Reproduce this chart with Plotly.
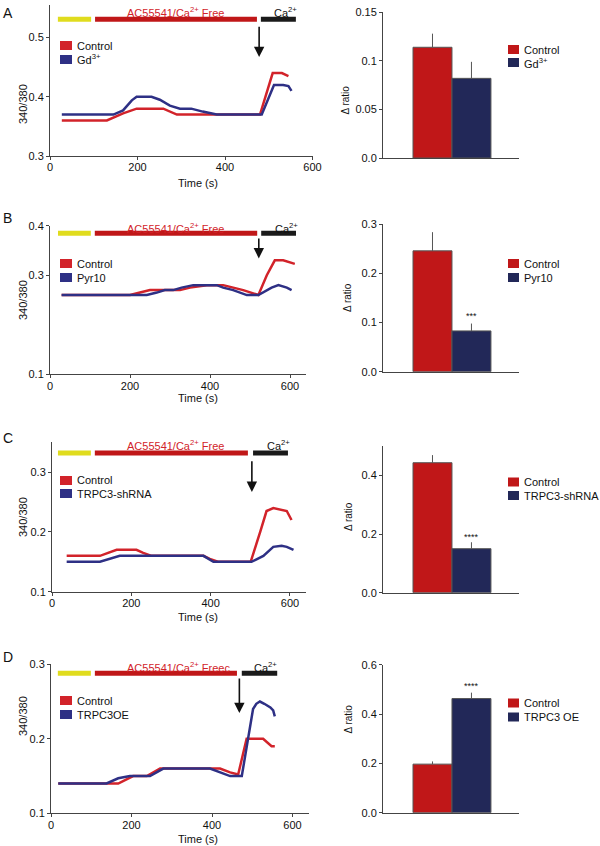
import plotly.graph_objects as go

W, H = 600, 846
FONT = "Liberation Sans, Arial, Helvetica, sans-serif"
RED_LINE = "#d2232a"
BLUE_LINE = "#2e3085"
RED_BAR = "#c01718"
BLUE_BAR = "#222858"
YELLOW = "#e0dc1e"
AXIS = "#444444"

# ---- traces (time in s, 340/380 ratio) ----
a_t_ctrl = [27, 130, 167, 198, 259, 290, 480, 509, 530, 545]
a_ctrl = [0.36, 0.36, 0.372, 0.38, 0.38, 0.37, 0.37, 0.44, 0.44, 0.435]
a_t_trt = [27, 145, 167, 187, 198, 232, 251, 274, 297, 323, 349, 366, 381, 484, 512, 533, 545, 552]
a_trt = [0.37, 0.37, 0.377, 0.394, 0.40, 0.40, 0.395, 0.385, 0.38, 0.38, 0.375, 0.372, 0.37, 0.37, 0.42, 0.42, 0.418, 0.41]

b_t_ctrl = [29, 200, 225, 250, 325, 350, 392, 433, 458, 483, 521, 542, 562, 583, 612]
b_ctrl = [0.26, 0.26, 0.265, 0.27, 0.27, 0.275, 0.28, 0.28, 0.275, 0.27, 0.26, 0.30, 0.33, 0.33, 0.323]
b_t_trt = [29, 242, 267, 287, 308, 329, 358, 417, 433, 458, 492, 521, 554, 571, 592, 604]
b_trt = [0.26, 0.26, 0.265, 0.27, 0.27, 0.275, 0.28, 0.28, 0.275, 0.27, 0.26, 0.26, 0.275, 0.28, 0.275, 0.27]

c_t_ctrl = [37, 121, 163, 213, 230, 251, 382, 398, 420, 501, 525, 541, 558, 583, 592, 604]
c_ctrl = [0.16, 0.16, 0.17, 0.17, 0.165, 0.16, 0.16, 0.155, 0.15, 0.15, 0.20, 0.235, 0.24, 0.237, 0.235, 0.22]
c_t_trt = [37, 121, 171, 382, 407, 503, 533, 558, 579, 592, 609]
c_trt = [0.15, 0.15, 0.16, 0.16, 0.15, 0.15, 0.16, 0.175, 0.177, 0.175, 0.17]

d_t_ctrl = [18, 167, 204, 238, 271, 420, 445, 465, 486, 527, 548, 556]
d_ctrl = [0.14, 0.14, 0.15, 0.15, 0.16, 0.16, 0.155, 0.152, 0.20, 0.20, 0.19, 0.19]
d_t_trt = [18, 138, 167, 196, 246, 279, 395, 420, 445, 474, 490, 502, 510, 519, 530, 545, 552, 556]
d_trt = [0.14, 0.14, 0.147, 0.15, 0.15, 0.16, 0.16, 0.155, 0.15, 0.15, 0.20, 0.24, 0.247, 0.25, 0.247, 0.242, 0.238, 0.23]

# treatment periods (s): baseline, AC55541/Ca-free, Ca2+
a_periods = [(18, 94), (103, 473), (482, 562)]
b_periods = [(20, 102), (112, 518), (528, 615)]
c_periods = [(15, 98), (108, 494), (507, 595)]
d_periods = [(17, 99), (109, 462), (474, 562)]

# ---- summary bars (delta ratio, mean and SEM) ----
bar_groups = ["Control", "Treated"]
a_mean = [0.114, 0.082]
a_sem = [0.014, 0.017]
b_mean = [0.246, 0.083]
b_sem = [0.038, 0.015]
c_mean = [0.443, 0.150]
c_sem = [0.026, 0.022]
d_mean = [0.197, 0.463]
d_sem = [0.011, 0.024]

treat_names = ["Gd<sup>3+</sup>", "Pyr10", "TRPC3-shRNA", "TRPC3OE"]
bar_names = ["Gd<sup>3+</sup>", "Pyr10", "TRPC3-shRNA", "TRPC3 OE"]


def fx(p):
    return p / W


def fy(p):
    return 1 - p / H


panels = [
    dict(letter="A", ly=13, tc=a_t_ctrl, c=a_ctrl, tt=a_t_trt, t=a_trt, per=a_periods,
         xd=(50, 312.5), xr=(0, 600), yd=(156, 5), yr=(0.3, 0.555), yt=[0.3, 0.4, 0.5],
         bar_y=0.531, txt_y=0.543, free_x=287, free="AC55541/Ca<sup>2+</sup> Free", ca_x=539,
         arrow=(478, 0.521, 0.467), time_y=183, ylab_y=82, leg_y=(45.5, 59.5),
         mean=a_mean, sem=a_sem, byd=(158, 12.3), byr=(0, 0.15), byt=[0, 0.05, 0.1, 0.15],
         bytt=["0.0", "0.05", "0.1", "0.15"], dx=345, dy=84, bleg=(49.5, 62.5), star=None),
    dict(letter="B", ly=218, tc=b_t_ctrl, c=b_ctrl, tt=b_t_trt, t=b_trt, per=b_periods,
         xd=(50, 306), xr=(0, 640), yd=(374.3, 225.7), yr=(0.1, 0.4), yt=[0.1, 0.3, 0.4],
         bar_y=0.385, txt_y=0.3955, free_x=314, free="AC55541/Ca<sup>2+</sup> Free", ca_x=590,
         arrow=(522, 0.377, 0.334), time_y=398, ylab_y=300, leg_y=(263.5, 277.5),
         mean=b_mean, sem=b_sem, byd=(371.7, 224.3), byr=(0, 0.3), byt=[0, 0.1, 0.2, 0.3],
         bytt=["0.0", "0.1", "0.2", "0.3"], dx=348, dy=298, bleg=(263.5, 277.5), star=("***", 0.113)),
    dict(letter="C", ly=438, tc=c_t_ctrl, c=c_ctrl, tt=c_t_trt, t=c_trt, per=c_periods,
         xd=(52, 305.8), xr=(0, 640), yd=(591.7, 442.3), yr=(0.1, 0.35), yt=[0.1, 0.2, 0.3],
         bar_y=0.332, txt_y=0.3457, free_x=311, free="AC55541/Ca<sup>2+</sup> Free", ca_x=570,
         arrow=(504, 0.321, 0.267), time_y=617, ylab_y=517, leg_y=(480.5, 493.5),
         mean=c_mean, sem=c_sem, byd=(592.7, 446), byr=(0, 0.5), byt=[0, 0.2, 0.4],
         bytt=["0.0", "0.2", "0.4"], dx=348, dy=517, bleg=(482, 495.5), star=("****", 0.19)),
    dict(letter="D", ly=657, tc=d_t_ctrl, c=d_ctrl, tt=d_t_trt, t=d_trt, per=d_periods,
         xd=(51, 308.6), xr=(0, 640), yd=(813.3, 664.3), yr=(0.1, 0.3), yt=[0.1, 0.2, 0.3],
         bar_y=0.288, txt_y=0.2968, free_x=317, free="AC55541/Ca<sup>2+</sup> Freec", ca_x=532,
         arrow=(468, 0.283, 0.2345), time_y=839, ylab_y=738, leg_y=(700.5, 714.5),
         mean=d_mean, sem=d_sem, byd=(812.7, 664.8), byr=(0, 0.6), byt=[0, 0.2, 0.4, 0.6],
         bytt=["0.0", "0.2", "0.4", "0.6"], dx=348, dy=736, bleg=(703, 717), star=("****", 0.515)),
]

fig = go.Figure()
shapes = []
annos = []
layout = {}
tickfont = dict(family=FONT, size=11, color="#111")
txtfont = dict(family=FONT, size=11, color="#111")

for i, p in enumerate(panels):
    n = i + 1          # line plot axes
    m = i + 5          # bar plot axes
    xs, ys = ("x" if n == 1 else f"x{n}"), ("y" if n == 1 else f"y{n}")
    xb, yb = f"x{m}", f"y{m}"

    fig.add_trace(go.Scatter(x=p["tc"], y=p["c"], mode="lines", line=dict(color=RED_LINE, width=2.5),
                             xaxis=xs, yaxis=ys, showlegend=False))
    fig.add_trace(go.Scatter(x=p["tt"], y=p["t"], mode="lines", line=dict(color=BLUE_LINE, width=2.5),
                             xaxis=xs, yaxis=ys, showlegend=False))

    common = dict(showline=True, linecolor=AXIS, linewidth=1, ticks="outside", ticklen=3,
                  tickcolor=AXIS, showgrid=False, zeroline=False, tickfont=tickfont, automargin=False)
    layout["xaxis" if n == 1 else f"xaxis{n}"] = dict(
        domain=[fx(p["xd"][0]), fx(p["xd"][1])], range=list(p["xr"]), anchor=ys,
        tickvals=[0, 200, 400, 600], ticklabelstandoff=-2, **common)
    layout["yaxis" if n == 1 else f"yaxis{n}"] = dict(
        domain=[fy(p["yd"][0]), fy(p["yd"][1])], range=list(p["yr"]), anchor=xs,
        tickvals=p["yt"], ticktext=[f"{v:.1f}" for v in p["yt"]], **common)

    # treatment bars on top
    for (t0, t1), col in zip(p["per"], [YELLOW, RED_BAR, "#1a1a1a"]):
        shapes.append(dict(type="line", xref=xs, yref=ys, x0=t0, x1=t1, y0=p["bar_y"], y1=p["bar_y"],
                           line=dict(color=col, width=5)))
    annos.append(dict(xref=xs, yref=ys, x=p["free_x"], y=p["txt_y"], text=p["free"], showarrow=False,
                      font=dict(family=FONT, size=11, color="#d2232a"), yanchor="middle"))
    annos.append(dict(xref=xs, yref=ys, x=p["ca_x"], y=p["txt_y"], text="Ca<sup>2+</sup>", showarrow=False,
                      font=txtfont, yanchor="middle"))
    ax_, y_tail, y_head = p["arrow"]
    annos.append(dict(xref=xs, yref=ys, x=ax_, y=y_head, ax=ax_, ay=y_tail, axref=xs, ayref=ys,
                      text="", showarrow=True, arrowhead=2, arrowsize=1.3, arrowwidth=1.6,
                      arrowcolor="#111"))

    # axis titles and panel letter
    annos.append(dict(xref="paper", yref="paper", x=fx(176), y=fy(p["time_y"]), text="Time (s)",
                      showarrow=False, font=txtfont, yanchor="middle"))
    annos.append(dict(xref="paper", yref="paper", x=fx(15), y=fy(p["ylab_y"]), text="340/380",
                      textangle=-90, showarrow=False, font=txtfont))
    annos.append(dict(xref="paper", yref="paper", x=fx(1), y=fy(p["ly"]), text=p["letter"],
                      xanchor="left", yanchor="middle", showarrow=False,
                      font=dict(family=FONT, size=14, color="#111")))

    # legend inside line plot
    for yy, col, lab in zip(p["leg_y"], [RED_LINE, BLUE_LINE], ["Control", treat_names[i]]):
        shapes.append(dict(type="rect", xref="paper", yref="paper", x0=fx(60), x1=fx(72),
                           y0=fy(yy + 4.5), y1=fy(yy - 4.5), fillcolor=col, line=dict(width=0)))
        annos.append(dict(xref="paper", yref="paper", x=fx(75), y=fy(yy), text=lab, xanchor="left",
                          yanchor="middle", showarrow=False, font=txtfont))

    # summary bars
    for j, col in enumerate([RED_BAR, BLUE_BAR]):
        fig.add_trace(go.Bar(x=[bar_groups[j]], y=[p["mean"][j]], width=1, marker_color=col,
                             marker_line=dict(color="#555", width=1),
                             error_y=dict(type="data", array=[p["sem"][j]], arrayminus=[0], symmetric=False,
                                          color="#555", thickness=1, width=0),
                             xaxis=xb, yaxis=yb, showlegend=False))
    layout[f"xaxis{m}"] = dict(domain=[fx(383), fx(519)], range=[-1.27, 2.22], anchor=yb,
                               type="category", categoryorder="array", categoryarray=bar_groups,
                               showline=True, linecolor=AXIS, linewidth=1, ticks="", showticklabels=False,
                               showgrid=False, zeroline=False, automargin=False)
    layout[f"yaxis{m}"] = dict(domain=[fy(p["byd"][0]), fy(p["byd"][1])], range=list(p["byr"]), anchor=xb,
                               tickvals=p["byt"], ticktext=p["bytt"], **common)
    annos.append(dict(xref="paper", yref="paper", x=fx(p["dx"]), y=fy(p["dy"]), text="Δ ratio",
                      textangle=-90, showarrow=False, font=dict(family=FONT, size=10, color="#111")))
    if p["star"]:
        annos.append(dict(xref=xb, yref=yb, x=bar_groups[1], y=p["star"][1], text=p["star"][0],
                          showarrow=False, yanchor="middle", font=dict(family=FONT, size=9, color="#111")))
    for yy, col, lab in zip(p["bleg"], [RED_BAR, BLUE_BAR], ["Control", bar_names[i]]):
        shapes.append(dict(type="rect", xref="paper", yref="paper", x0=fx(508), x1=fx(519),
                           y0=fy(yy + 4.5), y1=fy(yy - 4.5), fillcolor=col, line=dict(width=0)))
        annos.append(dict(xref="paper", yref="paper", x=fx(522), y=fy(yy), text=lab, xanchor="left",
                          yanchor="middle", showarrow=False, font=txtfont))

fig.update_layout(
    template="none",
    width=W, height=H,
    margin=dict(l=0, r=0, t=0, b=0, autoexpand=False),
    paper_bgcolor="white", plot_bgcolor="white",
    barmode="overlay",
    font=dict(family=FONT, size=11, color="#111"),
    shapes=shapes, annotations=annos,
    **layout
)
# drop the default body margin so the 600x846 figure fills the window
fig.write_html("out.html", config={"displayModeBar": False},
               post_script="document.body.style.margin='0';document.body.style.overflow='hidden';")
